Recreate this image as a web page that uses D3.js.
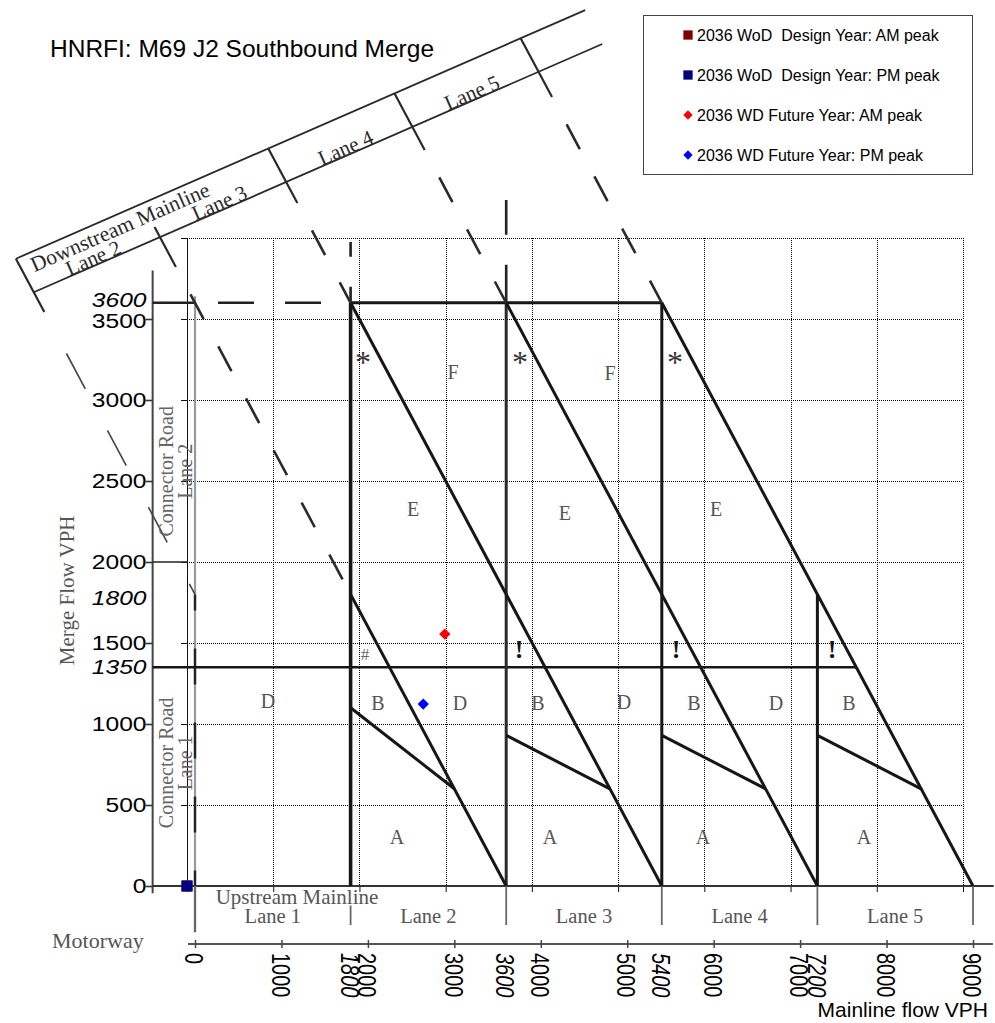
<!DOCTYPE html>
<html>
<head>
<meta charset="utf-8">
<title>HNRFI: M69 J2 Southbound Merge</title>
<script src="https://cdn.jsdelivr.net/npm/d3@7"></script>
<style>
  html, body { margin: 0; padding: 0; background: #fff; }
  svg { display: block; }
</style>
</head>
<body>
<svg id="chart" width="995" height="1023"></svg>
<script>
// ---- plotted series ----
const seriesNames = [
  '2036 WoD  Design Year: AM peak',
  '2036 WoD  Design Year: PM peak',
  '2036 WD Future Year: AM peak',
  '2036 WD Future Year: PM peak',
];
const seriesMainline = [0, 0, 2990, 2740];
const seriesMerge = [0, 0, 1555, 1123];
const seriesShape = ['square', 'square', 'diamond', 'diamond'];

// ---- axes / ticks ----
const yTickValues = [0, 500, 1000, 1500, 2000, 2500, 3000, 3500];
const yMarkedFlows = [1350, 1800, 3600];
const plotGridFlows = [500, 1000, 1500, 2000, 2500, 3000, 3500, 4000];
const plotGridMainline = [0, 1000, 2000, 3000, 4000, 5000, 6000, 7000, 8000, 9000];
const motorwayTicks = [0, 1000, 2000, 3000, 4000, 5000, 6000, 7000, 8000, 9000];
const motorwayMarked = [1800, 3600, 5400, 7200];

// ---- merge diagram (background) geometry, in vph ----
const laneBounds = [0, 1800, 3600, 5400, 7200, 9000];
const upstreamLaneNames = ['Lane 1', 'Lane 2', 'Lane 3', 'Lane 4', 'Lane 5'];
const laneVerticalTop = [3600, 3600, 3600, 1800]; // for laneBounds[1..4]
const diagonalSums = [3600, 5400, 7200, 9000];     // lines x + y = const
const diagonalStartX = [1800, 1800, 3600, 5400];
const splitStartFlow = [1100, 930, 930, 930];
const splitKneeFlow = 600;
const capacityFlow = 3600;
const connectorBreakFlow = 1350;
const connectorLowerCorner = 1800;
const diagramAxisX = -490;
const dividerSums = [1800, 3600, 5400, 7200, 9000];
const dividerTopFlow = [3872, 4068, 4552, 4893, 5233];
const dividerBottomFlow = [3543, 3821, 4216, 4543, 4870];
const dividerDashEndX = [0, 1800, 1800, 3600, 5400];
const bandIntercepts = [4355, 4100]; // upper, lower edge of the downstream band
const bandSlope = 0.233;
const bandEndX = [4514, 4711];
const downstreamLaneNames = ['Lane 2', 'Lane 3', 'Lane 4', 'Lane 5'];

const regionLetters = ['D', 'B', 'D', 'B', 'D', 'B', 'D', 'B', 'A', 'A', 'A', 'A', 'E', 'E', 'E', 'F', 'F'];
const regionX = [845, 2117, 3066, 3968, 4963, 5773, 6722, 7566, 2337, 4107, 5877, 7740, 2522, 4280, 6027, 2985, 4801];
const regionY = [1142, 1130, 1130, 1130, 1136, 1130, 1130, 1130, 302, 302, 302, 302, 2327, 2302, 2327, 3173, 3167];
const asteriskX = [1944, 3760, 5553];
const asteriskY = 3265;
const bangX = [3748, 5565, 7370];
const bangY = 1457;
const hashX = 1967, hashY = 1426;

// ---- styles ----
const seriesColors = ['#800000', '#000080', '#ff0000', '#0000ff'];
const SANS = "'Liberation Sans', Arial, Helvetica, sans-serif";
const SERIF = "'Liberation Serif', 'Times New Roman', Times, serif";
const INK = '#161616';
const SCAN = '#555';

const svg = d3.select('#chart');

// scales: the excel plot area and the scanned diagram sit slightly apart
const y = d3.scaleLinear().domain([0, 4000]).range([886, 238]);
const xPlot = d3.scaleLinear().domain([0, 9000]).range([187, 963]);
const xDiag = d3.scaleLinear().domain([0, 9000]).range([195, 973]);
const line = d3.line().x(d => xDiag(d[0])).y(d => y(d[1]));

// title
svg.append('text')
  .attr('x', 50).attr('y', 57)
  .attr('font-family', SANS).attr('font-size', 24.5)
  .text('HNRFI: M69 J2 Southbound Merge');

// ---- excel gridlines ----
const grid = svg.append('g').attr('stroke', '#000').attr('stroke-width', 1).attr('stroke-dasharray', '1,1');
grid.selectAll('line.h').data(plotGridFlows).join('line')
  .attr('class', 'h')
  .attr('x1', xPlot(0)).attr('x2', xPlot(9000))
  .attr('y1', d => Math.round(y(d)) + 0.5).attr('y2', d => Math.round(y(d)) + 0.5);
grid.selectAll('line.v').data(plotGridMainline.slice(1)).join('line')
  .attr('class', 'v')
  .attr('x1', d => Math.round(xPlot(d)) + 0.5).attr('x2', d => Math.round(xPlot(d)) + 0.5)
  .attr('y1', y(4000)).attr('y2', y(0));

const exX = svg.append('g').attr('transform', `translate(0,${y(0)})`)
  .call(d3.axisBottom(xPlot).tickValues(plotGridMainline).tickSize(6).tickSizeOuter(0).tickFormat(''));
const exY = svg.append('g').attr('transform', `translate(${xPlot(0)},0)`)
  .call(d3.axisLeft(y).tickValues(plotGridFlows).tickSize(6).tickSizeOuter(0).tickFormat(''));
[exX, exY].forEach(g => g.selectAll('path, line').attr('stroke', '#111'));

// ---- scanned merge diagram ----
const diag = svg.append('g').attr('fill', 'none').attr('stroke-linecap', 'butt');

function seg(pts, w, color, dash, offset) {
  const p = diag.append('path').attr('d', line(pts))
    .attr('stroke', color || INK).attr('stroke-width', w);
  if (dash) p.attr('stroke-dasharray', dash).attr('stroke-dashoffset', offset || 0);
  return p;
}

// diagram axes
seg([[diagramAxisX, -45], [diagramAxisX, 3800]], 2, '#444');
seg([[diagramAxisX, 0], [9240, 0]], 2.2, '#333');

// x = 0 boundary: faint solid + dark dashes in connector lane 1
seg([[0, 3640], [0, -285]], 2.2, '#9a9a9a');
seg([[0, connectorLowerCorner], [0, 0]], 2.4, '#222', '36,38', 20);

// stubs at the marked flows
seg([[diagramAxisX, capacityFlow], [0, capacityFlow]], 2.4, '#222');
diag.append('line')
  .attr('x1', xDiag(diagramAxisX)).attr('x2', xPlot(0))
  .attr('y1', y(2000)).attr('y2', y(2000))
  .attr('stroke', '#222').attr('stroke-width', 1.5);
seg([[diagramAxisX, connectorBreakFlow], [diagonalSums[3] - connectorBreakFlow, connectorBreakFlow]], 2.6, INK);

// capacity line
seg([[0, capacityFlow], [laneBounds[1], capacityFlow]], 2.4, '#222', '36,31', 44);
seg([[laneBounds[1], capacityFlow], [laneBounds[3], capacityFlow]], 3, INK);

// lane verticals
laneVerticalTop.forEach((top, i) => {
  seg([[laneBounds[i + 1], 0], [laneBounds[i + 1], top]], i === 0 ? 3.6 : 3, i === 1 ? '#2a2a2a' : INK);
});
seg([[laneBounds[1], capacityFlow], [laneBounds[1], 3975]], 2.6, '#222', '16,30');
seg([[laneBounds[2], capacityFlow], [laneBounds[2], 4235]], 2.6, '#222', '38,30');

// diagonals x + y = s
diagonalSums.forEach((s, i) => {
  seg([[diagonalStartX[i], s - diagonalStartX[i]], [s, 0]], 3, INK);
});

// B / A split lines
splitStartFlow.forEach((f, i) => {
  const x0 = laneBounds[i + 1];
  const kneeX = x0 + 1800 - splitKneeFlow;
  seg([[x0, f], [kneeX, splitKneeFlow]], 3, INK);
});

// downstream band
bandIntercepts.forEach((b, i) => {
  const x0 = (dividerSums[0] - b) / (1 + bandSlope);
  seg([[x0, b + bandSlope * x0], [bandEndX[i], b + bandSlope * bandEndX[i]]], 1.8, '#2a2a2a');
});
dividerSums.forEach((s, i) => {
  seg([[s - dividerTopFlow[i], dividerTopFlow[i]], [s - dividerBottomFlow[i], dividerBottomFlow[i]]], 2.2, '#2a2a2a');
  const endX = dividerDashEndX[i];
  if (i === 0) {
    seg([[s - dividerBottomFlow[i], dividerBottomFlow[i]], [endX, s - endX]], 1.6, '#444', '40,47', 40);
  } else {
    seg([[s - dividerBottomFlow[i], dividerBottomFlow[i]], [endX, s - endX]], 2.6, '#2a2a2a', '28,31', 28);
  }
});

// below-axis upstream lane dividers
laneBounds.forEach((b, i) => {
  const top = i === 1 ? -120 : 0;
  const bottom = i === 0 ? -285 : -241;
  seg([[b, top], [b, bottom]], i === 0 ? 2.2 : 1.8, '#666');
});

// ---- diagram text ----
const txt = svg.append('g');

function bandPoint(s, t) {
  const b = bandIntercepts[1] + t * (bandIntercepts[0] - bandIntercepts[1]);
  const xv = (s - b) / (1 + bandSlope);
  return [xDiag(xv), y(s - xv)];
}
const bandAngle = Math.atan2(
  y(bandIntercepts[0] + bandSlope * 1000) - y(bandIntercepts[0]),
  xDiag(1000) - xDiag(0)) * 180 / Math.PI;

const downstreamMid = downstreamLaneNames.map((_, i) => (dividerSums[i] + dividerSums[i + 1]) / 2);
txt.selectAll('text.band').data(downstreamLaneNames).join('text')
  .attr('class', 'band')
  .attr('transform', (d, i) => {
    const p = bandPoint(downstreamMid[i], 0.2);
    return `translate(${p[0]},${p[1]}) rotate(${bandAngle})`;
  })
  .attr('text-anchor', 'middle').attr('dominant-baseline', 'central')
  .attr('font-family', SERIF).attr('font-size', 21).attr('fill', '#2a2a2a')
  .text(d => d);
{
  const p = bandPoint(3200, 0.66);
  txt.append('text')
    .attr('transform', `translate(${p[0]},${p[1]}) rotate(${bandAngle})`)
    .attr('text-anchor', 'middle').attr('dominant-baseline', 'central')
    .attr('font-family', SERIF).attr('font-size', 21.5).attr('fill', '#2a2a2a')
    .text('Downstream Mainline');
}

// upstream labels
txt.selectAll('text.up').data(upstreamLaneNames).join('text')
  .attr('class', 'up')
  .attr('x', (d, i) => xDiag((laneBounds[i] + laneBounds[i + 1]) / 2))
  .attr('y', y(-228))
  .attr('text-anchor', 'middle')
  .attr('font-family', SERIF).attr('font-size', 20.5).attr('fill', SCAN)
  .text(d => d);
txt.append('text')
  .attr('x', xDiag(1180)).attr('y', y(-112))
  .attr('text-anchor', 'middle')
  .attr('font-family', SERIF).attr('font-size', 21).attr('fill', SCAN)
  .text('Upstream Mainline');

// connector road labels
[[2560, 'Lane 2'], [760, 'Lane 1']].forEach(([f, lane]) => {
  txt.append('text')
    .attr('transform', `translate(${xDiag(0) - 22},${y(f)}) rotate(-90)`)
    .attr('text-anchor', 'middle')
    .attr('font-family', SERIF).attr('font-size', 20).attr('fill', '#666')
    .text('Connector Road');
  txt.append('text')
    .attr('transform', `translate(${xDiag(0) - 3},${y(f)}) rotate(-90)`)
    .attr('text-anchor', 'middle')
    .attr('font-family', SERIF).attr('font-size', 20).attr('fill', '#666')
    .text(lane);
});

// region letters
txt.selectAll('text.reg').data(regionLetters).join('text')
  .attr('class', 'reg')
  .attr('x', (d, i) => xDiag(regionX[i])).attr('y', (d, i) => y(regionY[i]))
  .attr('text-anchor', 'middle').attr('dominant-baseline', 'central')
  .attr('font-family', SERIF).attr('font-size', 20).attr('fill', SCAN)
  .text(d => d);
txt.selectAll('text.ast').data(asteriskX).join('text')
  .attr('class', 'ast')
  .attr('x', d => xDiag(d)).attr('y', y(asteriskY)).attr('dy', '0.5em')
  .attr('text-anchor', 'middle')
  .attr('font-family', SERIF).attr('font-size', 32).attr('fill', '#333')
  .text('*');
txt.selectAll('text.bang').data(bangX).join('text')
  .attr('class', 'bang')
  .attr('x', d => xDiag(d)).attr('y', y(bangY))
  .attr('text-anchor', 'middle').attr('dominant-baseline', 'central')
  .attr('font-family', SERIF).attr('font-weight', 'bold').attr('font-size', 26).attr('fill', '#111')
  .text('!');
txt.append('text')
  .attr('x', xDiag(hashX)).attr('y', y(hashY))
  .attr('text-anchor', 'middle').attr('dominant-baseline', 'central')
  .attr('font-family', SERIF).attr('font-size', 17).attr('fill', '#666')
  .text('#');

// ---- left (merge flow) axis ----
const gy = svg.append('g').attr('transform', `translate(${xDiag(diagramAxisX)},0)`)
  .call(d3.axisLeft(y).tickValues(yTickValues).tickSize(7).tickPadding(-2).tickFormat(d3.format('d')));
gy.select('.domain').remove();
gy.selectAll('line').attr('stroke', '#333').attr('stroke-width', 1.6);
gy.selectAll('text')
  .attr('font-family', SANS).attr('font-size', 20).attr('fill', '#000')
  .attr('dy', d => d === 3500 ? '0.4em' : '0.32em')
  .attr('transform', 'scale(1.23,1)');

const gyi = svg.append('g').attr('transform', `translate(${xDiag(diagramAxisX)},0)`)
  .call(d3.axisLeft(y).tickValues(yMarkedFlows).tickSize(0).tickPadding(5).tickFormat(d3.format('d')));
gyi.select('.domain').remove();
gyi.selectAll('text')
  .attr('font-family', SANS).attr('font-size', 20).attr('font-style', 'italic').attr('fill', '#000')
  .attr('dy', d => d === 1800 ? '0.5em' : (d === 3600 ? '0.2em' : '0.32em'))
  .attr('transform', 'scale(1.23,1)');

svg.append('text')
  .attr('transform', `translate(74,${y(1825)}) rotate(-90)`)
  .attr('text-anchor', 'middle')
  .attr('font-family', SERIF).attr('font-size', 21).attr('fill', SCAN)
  .text('Merge Flow VPH');

// ---- motorway axis ----
const motorY = 944;
svg.append('line')
  .attr('x1', xDiag(0) - 7).attr('x2', xDiag(9230))
  .attr('y1', motorY).attr('y2', motorY)
  .attr('stroke', '#555').attr('stroke-width', 2);
const gm = svg.append('g').attr('transform', `translate(0,${motorY})`)
  .call(d3.axisBottom(xDiag).tickValues(motorwayTicks).tickSize(4).tickFormat(d3.format('d')));
gm.select('.domain').remove();
gm.selectAll('line').attr('y1', -4).attr('y2', 4).attr('stroke', '#444').attr('stroke-width', 1.5);
gm.selectAll('text')
  .attr('x', 0).attr('y', 0).attr('dy', null)
  .attr('transform', 'translate(-2,9) rotate(90) scale(1,1.25)')
  .attr('text-anchor', 'start').attr('dominant-baseline', 'central')
  .attr('font-family', SANS).attr('font-size', 20).attr('fill', '#000');
const gmi = svg.append('g').attr('transform', `translate(0,${motorY})`)
  .call(d3.axisBottom(xDiag).tickValues(motorwayMarked).tickSize(0).tickFormat(d3.format('d')));
gmi.select('.domain').remove();
gmi.selectAll('text')
  .attr('x', 0).attr('y', 0).attr('dy', null)
  .attr('transform', 'translate(-2,9) rotate(90) scale(1,1.25)')
  .attr('text-anchor', 'start').attr('dominant-baseline', 'central')
  .attr('font-family', SANS).attr('font-size', 20).attr('font-style', 'italic').attr('fill', '#000');

svg.append('text')
  .attr('x', 52).attr('y', 948)
  .attr('font-family', SERIF).attr('font-size', 22).attr('fill', SCAN)
  .text('Motorway');
svg.append('text')
  .attr('x', 988).attr('y', 1017).attr('text-anchor', 'end')
  .attr('font-family', SANS).attr('font-size', 21).attr('fill', '#000')
  .text('Mainline flow VPH');

// ---- data points ----
const symFor = (shape, big) => shape === 'square'
  ? d3.symbol(d3.symbolSquare, big ? 121 : 86)()
  : d3.symbol(d3.symbolSquare, big ? 64 : 43)();
svg.append('g').selectAll('path').data(seriesNames).join('path')
  .attr('d', (d, i) => symFor(seriesShape[i], true))
  .attr('transform', (d, i) => `translate(${xPlot(seriesMainline[i])},${y(seriesMerge[i])})` +
    (seriesShape[i] === 'diamond' ? ' rotate(45)' : ''))
  .attr('fill', (d, i) => seriesColors[i]);

// ---- legend ----
const lg = svg.append('g');
lg.append('rect')
  .attr('x', 643.5).attr('y', 15.5).attr('width', 329).attr('height', 159)
  .attr('fill', '#fff').attr('stroke', '#444').attr('stroke-width', 1);
const items = lg.selectAll('g.item').data(seriesNames).join('g')
  .attr('class', 'item')
  .attr('transform', (d, i) => `translate(688,${35 + i * 40})`);
items.append('path')
  .attr('d', (d, i) => symFor(seriesShape[i], false))
  .attr('transform', (d, i) => seriesShape[i] === 'diamond' ? 'rotate(45)' : null)
  .attr('fill', (d, i) => seriesColors[i]);
items.append('text')
  .attr('x', 9).attr('dy', '0.36em')
  .attr('font-family', SANS).attr('font-size', 16).attr('fill', '#000')
  .style('white-space', 'pre')
  .text(d => d);
</script>
</body>
</html>
